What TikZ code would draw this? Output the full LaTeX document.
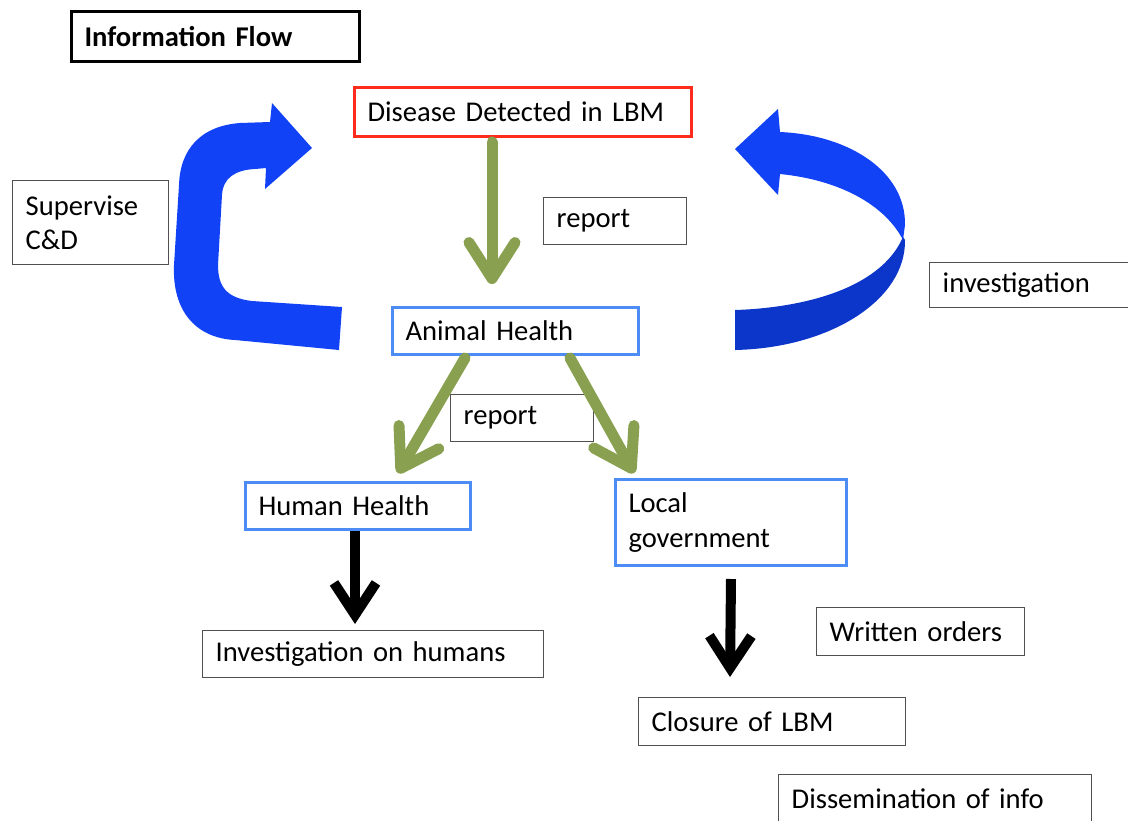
\documentclass[tikz,border=0pt]{standalone}
\usepackage{fontspec}
\setmainfont{Carlito}
\usetikzlibrary{arrows.meta,calc}
\definecolor{boxred}{HTML}{FF2B1C}
\definecolor{boxblue}{HTML}{4D8BF5}
\definecolor{boxgray}{HTML}{505050}
\definecolor{flowgreen}{HTML}{88A04F}
\definecolor{loopblue}{HTML}{1242F6}
\definecolor{loopdark}{HTML}{0C36C9}
\tikzset{
  box/.style={draw=boxgray, line width=1.4pt, anchor=north west, inner xsep=13pt,
    inner ysep=0pt, align=left, font=\fontsize{28.6}{35}\selectfont},
  redbox/.style={box, draw=boxred, line width=3pt},
  bluebox/.style={box, draw=boxblue, line width=3pt},
  report/.style={draw=flowgreen, line width=11pt, line cap=round,
    -{Straight Barb[length=36pt,width=46pt,round]}},
  action/.style={draw=black, line width=10pt,
    -{Straight Barb[length=32pt,width=42pt]}},
}
\begin{document}
\begin{tikzpicture}[x=1pt,y=-1pt]
  \useasboundingbox (0,0) rectangle (1128,820);

  % boxes
  \node[box, draw=black, line width=3pt, minimum width=288pt, minimum height=50pt,
    text width=262pt, font=\fontsize{28.6}{35}\selectfont\bfseries] (title) at (70,10) {Information Flow};
  \node[redbox, minimum width=337pt, minimum height=49pt, text width=311pt] (disease) at (353,86) {Disease Detected in LBM};
  \node[box, minimum width=143pt, minimum height=47pt, text width=117pt] (report1) at (543,197) {report};
  \node[box, minimum width=156pt, minimum height=84pt, text width=130pt] (supervise) at (12,180) {Supervise\\[-1pt]C\&D};
  \node[box, minimum width=200pt, minimum height=45pt, text width=174pt] (investigation) at (929,262) {investigation};
  \node[bluebox, minimum width=246pt, minimum height=47pt, text width=220pt] (animal) at (391,306) {Animal Health};
  \node[box, minimum width=143pt, minimum height=47pt, text width=117pt] (report2) at (450,394) {report};
  \node[bluebox, minimum width=225pt, minimum height=47pt, text width=199pt] (human) at (244,481) {Human Health};
  \node[bluebox, minimum width=231pt, minimum height=86pt, text width=205pt] (local) at (614,478) {Local\\government};
  \node[box, minimum width=341pt, minimum height=47pt, text width=315pt] (invhumans) at (202,630) {Investigation on humans};
  \node[box, minimum width=208pt, minimum height=48pt, text width=182pt] (orders) at (816,607) {Written orders};
  \node[box, minimum width=267pt, minimum height=48pt, text width=241pt] (closure) at (638,697) {Closure of LBM};
  \node[box, minimum width=313pt, minimum height=48pt, text width=287pt] (dissemination) at (778,774) {Dissemination of info};

  % reporting arrows
  \draw[report] ($(disease.south west)+(139,4)$) -- ($(animal.north west)+(101,-22)$);
  \draw[report] ($(animal.south west)+(74,2)$) -- ($(human.north west)+(154,-8)$);
  \draw[report] ($(animal.south west)+(179,2)$) -- ($(local.north west)+(20,-5)$);

  % action arrows
  \draw[action] ($(human.south west)+(111,0)$) -- ($(invhumans.north west)+(153,-6)$);
  \draw[action] ($(local.south west)+(117,12)$) -- ($(closure.north west)+(92,-20)$);

  % supervise loop
  \fill[loopblue] (339,350) -- (342,307) -- (252,301)
    .. controls (226,298) and (218,286) .. (218,265) -- (222,195)
    .. controls (223,178) and (235,170) .. (255,169) -- (266,168)
    -- (265,189) -- (312,148) -- (272,103) -- (270,122) -- (240,123)
    .. controls (200,126) and (180,150) .. (179,185) -- (174,265)
    .. controls (172,310) and (195,338) .. (235,340) -- cycle;

  % investigation loop
  \fill[loopblue] (735,149) -- (778,109) -- (780,132)
    .. controls (850,135) and (906,172) .. (905,225) -- (903,240)
    .. controls (885,205) and (840,180) .. (780,174) -- (778,195) -- cycle;
  \fill[loopdark] (903,237) .. controls (880,290) and (800,308) .. (735,310)
    -- (735,350) .. controls (830,348) and (906,300) .. (905,240) -- cycle;
\end{tikzpicture}
\end{document}
